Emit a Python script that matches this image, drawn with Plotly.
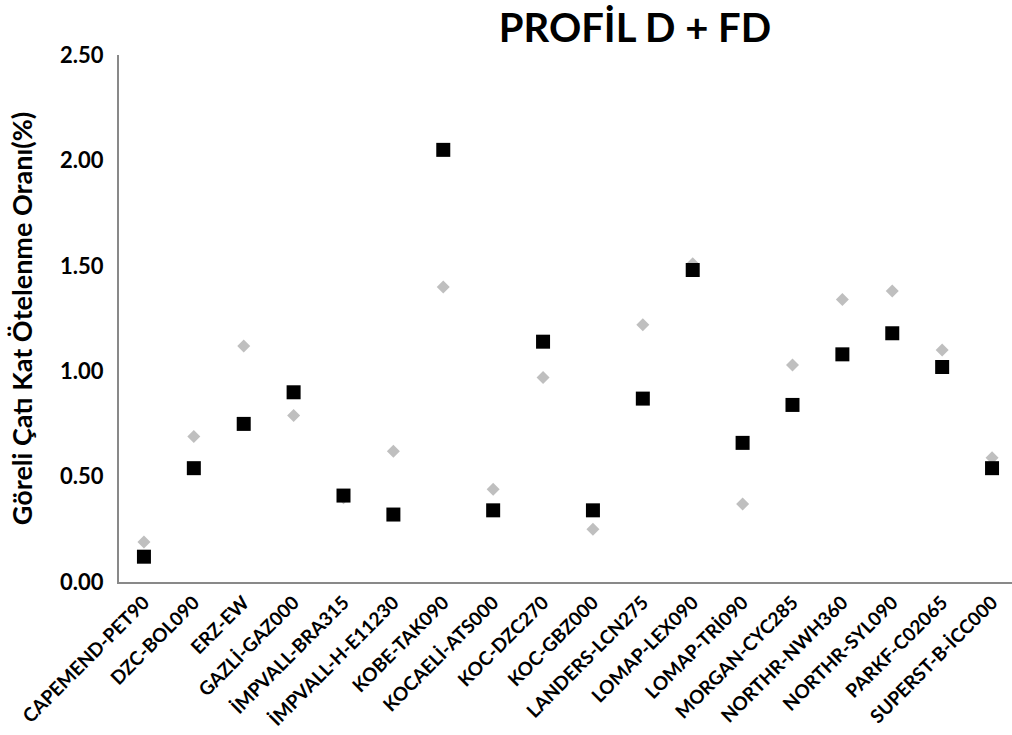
import plotly.graph_objects as go

# Ground-motion records (x categories)
records = [
    "CAPEMEND-PET90", "DZC-BOL090", "ERZ-EW", "GAZLİ-GAZ000", "İMPVALL-BRA315",
    "İMPVALL-H-E11230", "KOBE-TAK090", "KOCAELİ-ATS000", "KOC-DZC270",
    "KOC-GBZ000", "LANDERS-LCN275", "LOMAP-LEX090", "LOMAP-TRİ090",
    "MORGAN-CYC285", "NORTHR-NWH360", "NORTHR-SYL090", "PARKF-C02065",
    "SUPERST-B-İCC000",
]

# Roof drift ratio (%) - grey diamond series
drift_grey = [0.19, 0.69, 1.12, 0.79, 0.40, 0.62, 1.40, 0.44, 0.97,
              0.25, 1.22, 1.51, 0.37, 1.03, 1.34, 1.38, 1.10, 0.59]

# Roof drift ratio (%) - black square series
drift_black = [0.12, 0.54, 0.75, 0.90, 0.41, 0.32, 2.05, 0.34, 1.14,
               0.34, 0.87, 1.48, 0.66, 0.84, 1.08, 1.18, 1.02, 0.54]

y_ticks = [0.0, 0.5, 1.0, 1.5, 2.0, 2.5]
y_tick_text = ["0.00", "0.50", "1.00", "1.50", "2.00", "2.50"]

FONT = "Lato, 'Open Sans', sans-serif"

fig = go.Figure()
fig.add_trace(go.Scatter(
    x=records, y=drift_grey, mode="markers",
    marker=dict(symbol="diamond", size=10, color="#BFBFBF"),
    showlegend=False,
))
fig.add_trace(go.Scatter(
    x=records, y=drift_black, mode="markers",
    marker=dict(symbol="square", size=14, color="#000000"),
    showlegend=False,
))

fig.update_layout(
    width=1012, height=735,
    margin=dict(l=119, r=0, t=55, b=153),
    paper_bgcolor="white", plot_bgcolor="white",
    title=dict(
        text="<b>PROFİL D + FD</b>",
        font=dict(family=FONT, size=40, color="#000000"),
        x=635 / 1012, xanchor="center", y=1 - 28 / 735, yanchor="middle",
    ),
    xaxis=dict(
        type="category", range=[-0.5, 17.4],
        showline=True, linecolor="#898989", linewidth=2,
        showgrid=False, ticks="", zeroline=False,
        tickangle=-45,
        tickfont=dict(family=FONT, size=19, color="#000000", weight="bold"),
    ),
    yaxis=dict(
        range=[0, 2.5], tickvals=y_ticks, ticktext=y_tick_text,
        showline=True, linecolor="#898989", linewidth=2,
        showgrid=False, ticks="", zeroline=False,
        ticklabelstandoff=9,
        tickfont=dict(family=FONT, size=22, color="#000000", weight="bold"),
        title=dict(text="<b>Göreli Çatı Kat Ötelenme Oranı(%)</b>",
                   font=dict(family=FONT, size=27, color="#000000"), standoff=20),
    ),
)

fig.write_html("out.html")
